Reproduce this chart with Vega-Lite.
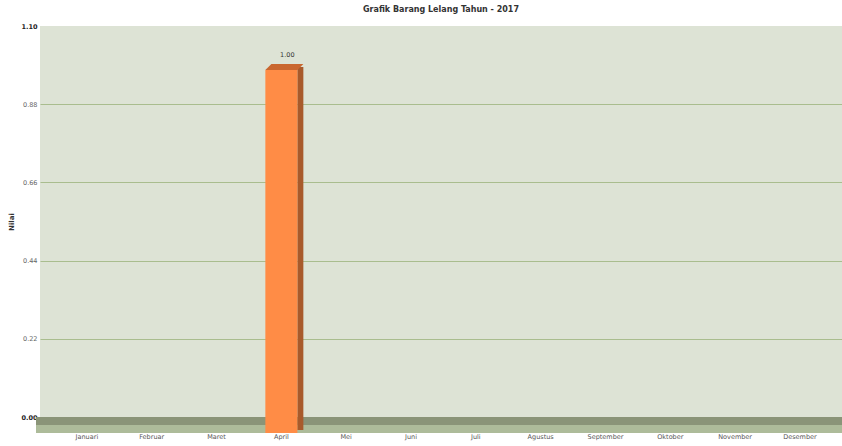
{
  "$schema": "https://vega.github.io/schema/vega-lite/v6.json",
  "width": 802,
  "height": 391,
  "autosize": "none",
  "padding": {"left": 40, "top": 26, "right": 0, "bottom": 29},
  "background": "white",
  "title": {"text": "Grafik Barang Lelang Tahun - 2017", "fontSize": 8, "font": "DejaVu Sans", "fontWeight": "bold", "color": "#333", "offset": 9, "anchor": "middle"},
  "config": {
    "view": {"fill": "#dde3d5", "stroke": null},
    "font": "DejaVu Sans"
  },
  "data": {"values": [
    {"bulan": "Januari", "nilai": 0},
    {"bulan": "Februar", "nilai": 0},
    {"bulan": "Maret", "nilai": 0},
    {"bulan": "April", "nilai": 1.0},
    {"bulan": "Mei", "nilai": 0},
    {"bulan": "Juni", "nilai": 0},
    {"bulan": "Juli", "nilai": 0},
    {"bulan": "Agustus", "nilai": 0},
    {"bulan": "September", "nilai": 0},
    {"bulan": "Oktober", "nilai": 0},
    {"bulan": "November", "nilai": 0},
    {"bulan": "Desember", "nilai": 0}
  ]},
  "encoding": {
    "x": {"field": "bulan", "type": "nominal", "sort": null,
      "scale": {"domain": ["Januari", "Februar", "Maret", "April", "Mei", "Juni", "Juli", "Agustus", "September", "Oktober", "November", "Desember"], "paddingInner": 0, "paddingOuter": 0.186, "align": 0.6},
      "axis": {"title": null, "labelAngle": 0, "domain": false, "ticks": false, "labelPadding": 16, "labelFontSize": 6.5, "labelColor": "#555555", "labelFont": "DejaVu Sans"}}
  },
  "layer": [
    {
      "mark": {"type": "rule", "color": "#8a9478", "strokeWidth": 8, "strokeCap": "square", "yOffset": 4, "xOffset": 1},
      "encoding": {"x": null, "y": {"datum": 0, "type": "quantitative", "scale": {"domain": [0, 1.1], "nice": false}}}
    },
    {
      "mark": {"type": "rule", "color": "#adbb9a", "strokeWidth": 8, "strokeCap": "square", "yOffset": 12, "xOffset": -3},
      "encoding": {"x": null, "y": {"datum": 0, "type": "quantitative"}}
    },
    {
      "transform": [{"filter": "datum.nilai > 0"}],
      "mark": {"type": "bar", "width": 6, "xOffset": 19, "yOffset": 5.5, "y2Offset": 13, "color": "#a85a2b"},
      "encoding": {
        "y": {"field": "nilai", "type": "quantitative"},
        "y2": {"datum": 0}
      }
    },
    {
      "transform": [{"filter": "datum.nilai > 0"}],
      "mark": {"type": "bar", "width": 32, "yOffset": 8.5, "y2Offset": 16, "color": "#ff8c46"},
      "encoding": {
        "y": {"field": "nilai", "type": "quantitative",
          "scale": {"domain": [0, 1.1], "nice": false},
          "axis": {"title": "Nilai", "values": [0, 0.22, 0.44, 0.66, 0.88, 1.1], "format": ".2f",
            "domain": false, "ticks": false, "labelPadding": 3, "labelFontSize": 6.5,
            "labelColor": {"expr": "datum.value == 0 || datum.value == 1.1 ? '#222222' : '#666666'"},
            "labelFontWeight": {"expr": "datum.value == 0 || datum.value == 1.1 ? 'bold' : 'normal'"},
            "grid": true, "gridColor": {"expr": "datum.value == 0 || datum.value == 1.1 ? 'transparent' : '#a9bd8e'"}, "gridWidth": 1,
            "titleFontSize": 7, "titleFontWeight": "bold", "titleColor": "#333", "titlePadding": 6}},
        "y2": {"datum": 0}
      }
    },
    {
      "transform": [{"filter": "datum.nilai > 0"}],
      "mark": {"type": "point", "filled": true, "opacity": 1, "size": 1444, "xOffset": 3, "yOffset": 5.5,
        "shape": "M-1,0.158L-0.684,-0.158L1,-0.158L0.684,0.158Z", "color": "#c9672f"},
      "encoding": {"y": {"field": "nilai", "type": "quantitative"}}
    },
    {
      "transform": [{"filter": "datum.nilai > 0"}],
      "mark": {"type": "text", "dy": -7, "xOffset": 6, "fontSize": 6.5, "color": "#333", "font": "DejaVu Sans"},
      "encoding": {"y": {"field": "nilai", "type": "quantitative"}, "text": {"field": "nilai", "format": ".2f"}}
    }
  ]
}
